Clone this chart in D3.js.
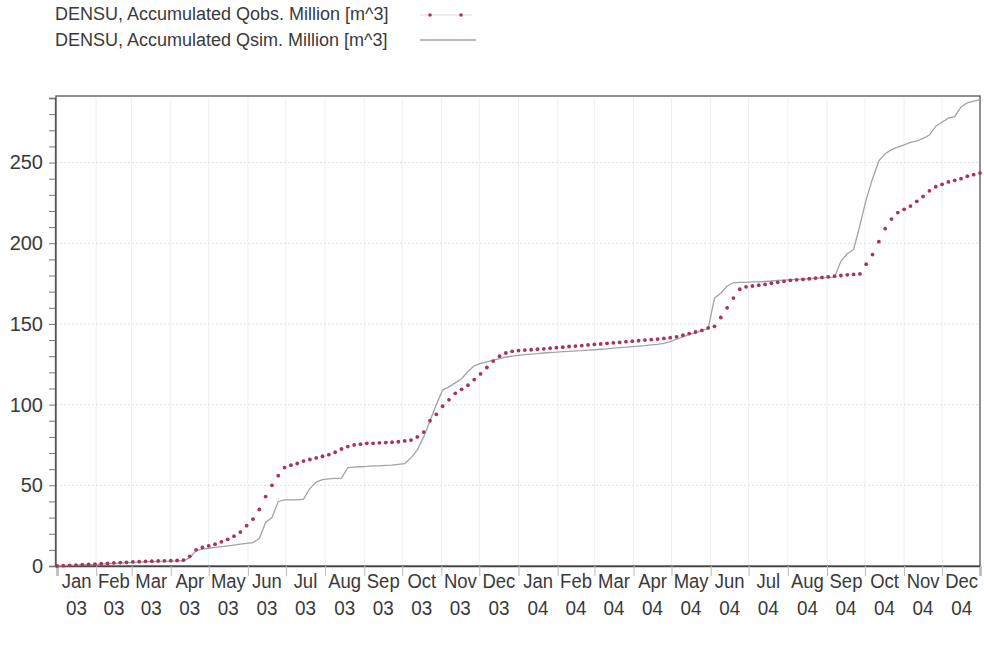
<!DOCTYPE html>
<html>
<head>
<meta charset="utf-8">
<script src="https://cdn.jsdelivr.net/npm/d3@7"></script>
<style>
  body { margin: 0; background: #fff; }
  text { font-family: "Liberation Sans", Arial, sans-serif; fill: #3a3a3a; }
</style>
</head>
<body>
<svg id="chart" width="984" height="647"></svg>
<script>
// chart data: accumulated discharge, values every 5 days from 1 Jan 2003
var startDay = "2003-01-01",
    endDay = "2005-01-01",
    stepDays = 5;

var qobs = [0,0.2,0.4,0.6,0.8,1.0,1.2,1.4,1.6,1.9,2.1,2.3,2.5,2.7,2.9,3.0,3.1,3.2,3.3,3.4,3.6,
  6,10,11.5,12.5,13.5,15,16.5,18.5,21,25,29,35,43,50,56,61,
  62.5,63.5,65,66,67,68,69,70.5,72.5,74,75,75.5,76,76,76.3,76.5,76.7,77,77.5,78,
  80,83,90,94,99,103,107,109.5,112,115.5,119,123,127,130,132,133,
  133.5,133.8,134,134.3,134.6,135,135.3,135.6,136,136.3,136.6,137,137.3,137.6,138,138.3,138.6,139,139.3,139.6,140,140.3,140.6,141,141.5,142,143,144,145,146,147.5,148.5,
  154,160,166,171.5,173,173.5,174,174.5,175.2,175.8,176.4,177,177.3,177.6,178,178.4,178.8,179.2,179.6,180,180.4,180.7,181,
  187,193,201,209,215,219,221,223,226,229,232.5,235,236.5,238,239,240,241.5,242.5,243.5];

var qsim = [0,0.2,0.4,0.6,0.8,0.9,1.0,1.2,1.4,1.6,1.8,2.0,2.2,2.4,2.6,2.7,2.8,2.9,3.0,3.1,3.3,
  5,9.5,10.5,11,11.5,12,12.5,13,13.5,14,14.5,17,27,30,40,41,
  41,41,41.5,48,52,53.5,54,54.3,54.5,61,61.3,61.5,61.7,62,62,62.3,62.5,63,63.5,67,
  72,80,90,100,109,111,113.5,116,120.5,124,125.5,126.5,127.5,128.5,129.5,130,
  130.5,131,131.3,131.6,132,132.3,132.5,132.8,133,133.3,133.5,133.8,134,134.3,134.6,135,135.3,135.6,136,136.3,136.6,137,137.3,138,139,140.5,142,143.5,144.5,146,147,166,
  169,173.5,175.5,175.7,175.8,176,176,176.3,176.6,177,177.2,177.4,177.6,177.8,178,178.3,178.5,178.8,179,189,193.5,196,211,
  227,240,251,255.5,258,259.5,261,262.5,263.5,265,267,272.5,275,277.5,278.5,284.5,287,288,289];

var monthLabels = ["Jan","Feb","Mar","Apr","May","Jun","Jul","Aug","Sep","Oct","Nov","Dec"];
var yearLabels = ["03","04"];
var yTickLabels = [0, 50, 100, 150, 200, 250];
var legendNames = ["DENSU, Accumulated Qobs. Million [m^3]", "DENSU, Accumulated Qsim. Million [m^3]"];

var parse = d3.timeParse("%Y-%m-%d");
var t0 = parse(startDay), t1 = parse(endDay);

// one date per 5 days
var dates = d3.timeDay.range(t0, t1).filter(function(d, i) { return i % stepDays === 0; });

var svg = d3.select("#chart");

// plot box (pixels)
var pLeft = 56, pRight = 980, pTop = 98, pBottom = 566;

var x = d3.scaleTime().domain([t0, d3.timeDay.offset(t1, -1)]).range([pLeft + 1, pRight]);
var y = d3.scaleLinear().domain([0, 290]).range([pBottom, pTop]);

var months = d3.timeMonth.range(t0, t1);

// grid
svg.append("g").selectAll("line")
  .data(months.slice(1))
  .enter().append("line")
    .attr("x1", function(d) { return x(d); })
    .attr("x2", function(d) { return x(d); })
    .attr("y1", pTop).attr("y2", pBottom)
    .attr("stroke", "#efefef").attr("stroke-width", 1);

svg.append("g").selectAll("line")
  .data(yTickLabels.slice(1))
  .enter().append("line")
    .attr("x1", pLeft).attr("x2", pRight)
    .attr("y1", function(d) { return y(d); })
    .attr("y2", function(d) { return y(d); })
    .attr("stroke", "#e0e0e0").attr("stroke-width", 1)
    .attr("stroke-dasharray", "2,2");

// plot frame
svg.append("rect")
  .attr("x", pLeft).attr("y", pTop - 2)
  .attr("width", pRight - pLeft).attr("height", pBottom - pTop + 2)
  .attr("fill", "none").attr("stroke", "#555").attr("stroke-width", 1.3);

// y axis
var yAxis = svg.append("g")
  .attr("transform", "translate(" + (pLeft - 1) + ",0)")
  .call(d3.axisLeft(y)
    .tickValues(d3.range(0, 291, 10))
    .tickSize(6)
    .tickPadding(6)
    .tickFormat(function(d) { return yTickLabels.indexOf(d) >= 0 ? d : ""; }));
yAxis.select(".domain").attr("stroke", "#555").attr("stroke-width", 1.3);
yAxis.selectAll(".tick line").attr("stroke", "#777");
yAxis.selectAll(".tick text")
  .attr("font-size", 20)
  .attr("font-family", "Liberation Sans, Arial, sans-serif")
  .attr("fill", "#3a3a3a");

// x axis ticks at month starts
var xAxis = svg.append("g")
  .attr("transform", "translate(0," + pBottom + ")")
  .call(d3.axisBottom(x).tickValues(months.concat([d3.timeDay.offset(t1, -1)])).tickSize(10).tickFormat(""));
xAxis.select(".domain").attr("stroke", "#444").attr("stroke-width", 1.6);
xAxis.selectAll(".tick line").attr("stroke", "#bbb");

// month labels centred in each month
var labs = svg.append("g").selectAll("g")
  .data(months)
  .enter().append("g")
    .attr("transform", function(d) {
      var mid = (x(d) + x(d3.timeMonth.offset(d, 1))) / 2;
      return "translate(" + mid + ",0)";
    });
labs.append("text")
  .attr("y", 588)
  .attr("text-anchor", "middle")
  .attr("font-size", 21)
  .attr("transform", "scale(0.88,1)")
  .text(function(d) { return monthLabels[d.getMonth()]; });
labs.append("text")
  .attr("y", 615)
  .attr("text-anchor", "middle")
  .attr("font-size", 21)
  .attr("transform", "scale(0.9,1)")
  .text(function(d) { return yearLabels[d.getFullYear() - 2003]; });

// simulated line
var line = d3.line()
  .x(function(d, i) { return x(dates[i]); })
  .y(function(d) { return y(d); });

svg.append("path")
  .datum(qsim)
  .attr("d", line)
  .attr("fill", "none")
  .attr("stroke", "#a3a3a3")
  .attr("stroke-width", 1.3);

// observed dots
svg.append("g").selectAll("circle")
  .data(qobs)
  .enter().append("circle")
    .attr("cx", function(d, i) { return x(dates[i]); })
    .attr("cy", function(d) { return y(d); })
    .attr("r", 1.9)
    .attr("fill", "#a8345a");

// legend
var legend = svg.append("g");
legend.selectAll("text")
  .data(legendNames)
  .enter().append("text")
    .attr("x", 55)
    .attr("y", function(d, i) { return 20 + i * 26; })
    .attr("font-size", 18)
    .text(function(d) { return d; });

legend.append("line")
  .attr("x1", 420).attr("x2", 472).attr("y1", 15).attr("y2", 15)
  .attr("stroke", "#eee").attr("stroke-width", 2);
legend.selectAll("circle")
  .data([430, 461])
  .enter().append("circle")
    .attr("cx", function(d) { return d; })
    .attr("cy", 15)
    .attr("r", 1.8)
    .attr("fill", "#a8345a");
legend.append("line")
  .attr("x1", 420).attr("x2", 476).attr("y1", 40).attr("y2", 40)
  .attr("stroke", "#a3a3a3").attr("stroke-width", 1.3);
</script>
</body>
</html>
